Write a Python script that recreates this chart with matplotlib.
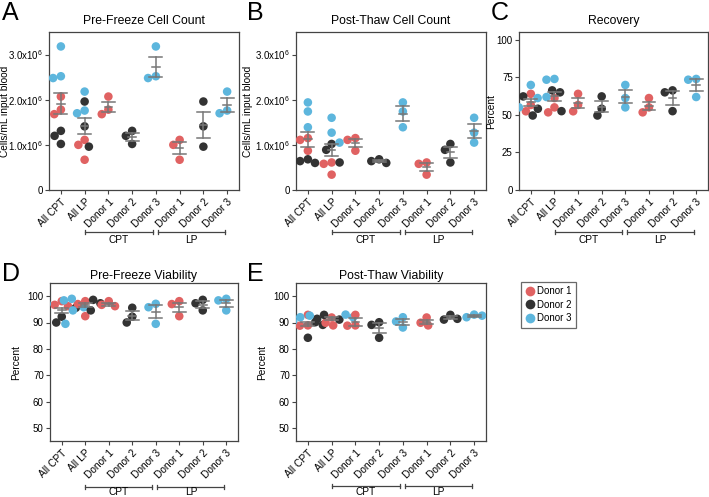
import numpy as np
import matplotlib.pyplot as plt
from matplotlib.lines import Line2D

plt.rcParams['font.family'] = ['Liberation Sans', 'DejaVu Sans']
plt.rcParams['mathtext.default'] = 'regular'

groups = ['All CPT', 'All LP', 'Donor 1', 'Donor 2', 'Donor 3', 'Donor 1', 'Donor 2', 'Donor 3']
donors = ['Donor 1', 'Donor 2', 'Donor 3']
colors = ['#E06262', '#333333', '#5DB6DD']

# each: [donor 1, donor 2, donor 3], three replicates per donor
pre_count_cpt = [[2.07e6, 1.78e6, 1.68e6], [1.31e6, 1.20e6, 1.02e6], [3.18e6, 2.52e6, 2.48e6]]
pre_count_lp = [[1.11e6, 1.00e6, 0.67e6], [1.96e6, 1.41e6, 0.96e6], [2.18e6, 1.76e6, 1.70e6]]

post_count_cpt = [[1.15e6, 1.11e6, 0.87e6], [0.68e6, 0.64e6, 0.60e6], [1.94e6, 1.74e6, 1.39e6]]
post_count_lp = [[0.61e6, 0.58e6, 0.34e6], [1.02e6, 0.89e6, 0.61e6], [1.60e6, 1.27e6, 1.05e6]]

recovery_cpt = [[63.9, 56.5, 52.3], [62.2, 54.0, 49.5], [69.8, 61.1, 54.9]]
recovery_lp = [[61.1, 54.9, 51.6], [66.2, 64.9, 52.4], [73.8, 73.3, 61.8]]

pre_via_cpt = [[98.1, 96.7, 96.2], [95.6, 92.2, 90.0], [97.1, 95.8, 89.5]]
pre_via_lp = [[98.1, 97.0, 92.4], [98.6, 97.3, 94.6], [99.0, 98.4, 94.6]]

post_via_cpt = [[92.9, 88.9, 88.8], [90.1, 89.1, 84.2], [92.0, 90.4, 88.1]]
post_via_lp = [[91.9, 89.9, 88.9], [92.9, 91.1, 91.4], [93.0, 92.0, 92.6]]

W, H = 709, 497
fig = plt.figure(figsize=(W / 100, H / 100), dpi=100)


def rect(l, r, t, b):
    return [l / W, 1 - b / H, (r - l) / W, (b - t) / H]


DIAM = 8.0


def swarm(ax, xc, vals):
    pts = ax.transData.transform(np.column_stack([np.full(len(vals), xc), vals]))
    placed = []
    offs = []
    for y in pts[:, 1]:
        cands = [0.0]
        for px, py in placed:
            dy = abs(py - y)
            if dy < DIAM:
                w = np.sqrt(DIAM ** 2 - dy ** 2)
                cands += [px - w, px + w]
        cands.sort(key=abs)
        for c in cands:
            if all((c - px) ** 2 + (y - py) ** 2 >= DIAM ** 2 - 1e-6 for px, py in placed):
                break
        placed.append((c, y))
        offs.append(c)
    ppx = ax.transData.transform([(1, 0)])[0][0] - ax.transData.transform([(0, 0)])[0][0]
    return xc + np.array(offs) / ppx


def panel(box, cpt, lp, title, ylim, yticks, yticklabels, ylabel, lab_x, letter, lpos,
          brack_y, text_y, title_pad):
    ax = fig.add_axes(rect(*box))
    ax.set_xlim(-0.5, 7.5)
    ax.set_ylim(*ylim)
    ax.set_yticks(yticks)
    ax.set_yticklabels(yticklabels)
    ax.set_xticks(range(8))
    ax.set_xticklabels(groups, rotation=45, ha='right', rotation_mode='anchor')
    ax.tick_params(labelsize=7.3, length=3, width=0.8, color='#444444', pad=2)
    ax.tick_params(axis='y', labelsize=7, pad=1.5)
    for s in ax.spines.values():
        s.set_color('#444444')
        s.set_linewidth(0.9)
    ax.set_title(title, fontsize=8.8, pad=title_pad)
    ax.set_ylabel(ylabel, fontsize=7.3)
    # label anchor is its right edge (rotated text)
    ax.yaxis.set_label_coords((lab_x - box[0]) / (box[1] - box[0]), 0.5)

    # build groups
    sets = []
    for block in (cpt, lp):
        v = []
        c = []
        for i, d in enumerate(block):
            v += d
            c += [colors[i]] * len(d)
        sets.append((v, c))
    for block in (cpt, lp):
        for i, d in enumerate(block):
            sets.append((list(d), [colors[i]] * len(d)))

    for k, (v, c) in enumerate(sets):
        v = np.array(v)
        xs = swarm(ax, k, v)
        ax.scatter(xs, v, s=38, c=c, edgecolors='none', zorder=3)
        m = v.mean()
        se = v.std(ddof=1) / np.sqrt(len(v))
        lc = '#777777'
        ax.plot([k - 0.16, k + 0.16], [m, m], color=lc, lw=1.1, zorder=4)
        ax.plot([k - 0.27, k + 0.27], [m + se, m + se], color=lc, lw=1.1, zorder=4)
        ax.plot([k - 0.27, k + 0.27], [m - se, m - se], color=lc, lw=1.1, zorder=4)
        ax.plot([k, k], [m - se, m + se], color=lc, lw=1.1, zorder=4)

    tr = ax.get_xaxis_transform()
    for (x0, x1, lab) in [(1.01, 3.86, 'CPT'), (4.07, 6.92, 'LP')]:
        ax.plot([x0, x1], [brack_y, brack_y], color='#444444', lw=0.9,
                transform=tr, clip_on=False)
        for xe in (x0, x1):
            ax.plot([xe, xe], [brack_y - 0.012, brack_y + 0.012], color='#444444',
                    lw=0.9, transform=tr, clip_on=False)
        ax.text((x0 + x1) / 2, text_y, lab, transform=tr, ha='center',
                va='center', fontsize=7.3)

    fig.text(lpos[0] / W, 1 - lpos[1] / H, letter, fontsize=18, va='top', ha='left')
    return ax


count_ticks = [0, 1e6, 2e6, 3e6]
count_labels = ['0', r'1.0x10$^6$', r'2.0x10$^6$', r'3.0x10$^6$']

panel((49, 239, 32, 190), pre_count_cpt, pre_count_lp, 'Pre-Freeze Cell Count',
      (0, 3.5e6), count_ticks, count_labels, 'Cells/mL input blood', 10, 'A', (2, 1),
      -0.266, -0.316, 6)
panel((296, 486, 32, 190), post_count_cpt, post_count_lp, 'Post-Thaw Cell Count',
      (0, 3.5e6), count_ticks, count_labels, 'Cells/mL input blood', 253, 'B', (247, 1),
      -0.266, -0.316, 6)
panel((519, 708, 32, 190), recovery_cpt, recovery_lp, 'Recovery',
      (0, 105), [0, 25, 50, 75, 100], ['0', '25', '50', '75', '100'], 'Percent', 496,
      'C', (491, 1), -0.266, -0.316, 6)
vt = [50, 60, 70, 80, 90, 100]
panel((50, 238, 283, 441), pre_via_cpt, pre_via_lp, 'Pre-Freeze Viability',
      (45, 105), vt, [str(t) for t in vt], 'Percent', 21, 'D', (2, 262),
      -0.29, -0.325, 3)
panel((296, 486, 283, 441), post_via_cpt, post_via_lp, 'Post-Thaw Viability',
      (45, 105), vt, [str(t) for t in vt], 'Percent', 267, 'E', (247, 262),
      -0.285, -0.32, 3)

handles = [Line2D([], [], ls='none', marker='o', markersize=7, color=c,
                  markeredgecolor='none') for c in colors]
leg = fig.legend(handles, donors, loc='upper left', bbox_to_anchor=(521 / W, 1 - 282 / H),
                 fontsize=7, frameon=True, fancybox=False, handlelength=0.9,
                 handletextpad=0.3, labelspacing=0.35, borderpad=0.45, borderaxespad=0)
leg.get_frame().set_edgecolor('#444444')
leg.get_frame().set_linewidth(0.9)

fig.savefig('out.png', dpi=100)
